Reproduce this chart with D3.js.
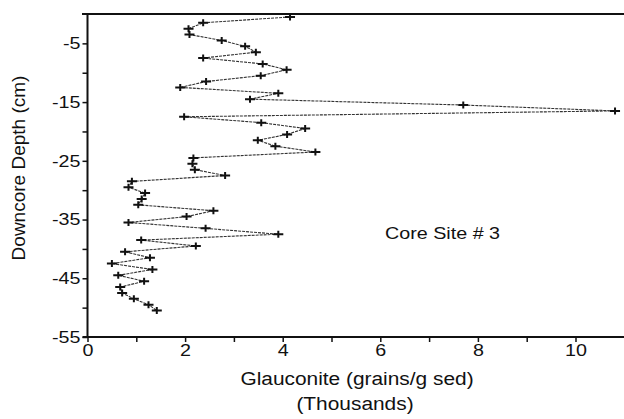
<!DOCTYPE html>
<html>
<head>
<meta charset="utf-8">
<script src="https://cdn.jsdelivr.net/npm/d3@7"></script>
<style>
  html, body { margin: 0; padding: 0; background: #fff; }
  svg { display: block; }
  text { font-family: "Liberation Sans", Arial, Helvetica, sans-serif; fill: #111; }
</style>
</head>
<body>
<svg id="chart" width="624" height="419"></svg>
<script>
// Downcore sample depths (cm, negative = below surface), one sample per cm
const depths = [
  -0.5, -1.5, -2.5, -3.5, -4.5, -5.5, -6.5, -7.5, -8.5, -9.5,
  -10.5, -11.5, -12.5, -13.5, -14.5, -15.5, -16.5, -17.5, -18.5, -19.5,
  -20.5, -21.5, -22.5, -23.5, -24.5, -25.5, -26.5, -27.5, -28.5, -29.5,
  -30.5, -31.5, -32.5, -33.5, -34.5, -35.5, -36.5, -37.5, -38.5, -39.5,
  -40.5, -41.5, -42.5, -43.5, -44.5, -45.5, -46.5, -47.5, -48.5, -49.5,
  -50.5
];
// Glauconite abundance (thousands of grains per gram of sediment)
const glauconite = [
  4.15, 2.37, 2.07, 2.09, 2.75, 3.23, 3.45, 2.37, 3.59, 4.08,
  3.55, 2.43, 1.90, 3.91, 3.33, 7.70, 10.81, 1.98, 3.56, 4.46,
  4.09, 3.49, 3.85, 4.67, 2.17, 2.15, 2.20, 2.82, 0.91, 0.84,
  1.18, 1.11, 1.04, 2.58, 2.03, 0.84, 2.42, 3.91, 1.10, 2.22,
  0.77, 1.28, 0.50, 1.33, 0.63, 1.16, 0.67, 0.71, 0.95, 1.25,
  1.42
];
const xTickValues = [0, 1, 2, 3, 4, 5, 6, 7, 8, 9, 10, 11];
const xTickLabels = ["0", "", "2", "", "4", "", "6", "", "8", "", "10", ""];
const yTickValues = [-5, -10, -15, -20, -25, -30, -35, -40, -45, -50, -55];
const yTickLabels = ["-5", "", "-15", "", "-25", "", "-35", "", "-45", "", "-55"];

const points = depths.map((d, i) => ({ depth: d, value: glauconite[i] }));

const svg = d3.select("#chart");
const stretch = 1.16; // horizontal widening of the lettering

const x = d3.scaleLinear().domain([0, 11]).range([87.5, 624.3]);
const y = d3.scaleLinear().domain([0, -55]).range([14, 337]);

// frame top line
svg.append("line")
  .attr("x1", 82).attr("x2", 624)
  .attr("y1", y(0)).attr("y2", y(0))
  .attr("stroke", "#111").attr("stroke-width", 2);

// left axis
const yAxis = svg.append("g")
  .attr("transform", `translate(${x(0)},0)`)
  .call(d3.axisLeft(y)
    .tickValues(yTickValues)
    .tickSize(5)
    .tickPadding(2)
    .tickFormat((d, i) => yTickLabels[i]));
yAxis.select(".domain").attr("stroke", "#111").attr("stroke-width", 2)
  .attr("d", `M0,${y(0)}V${y(-55)}`);
yAxis.selectAll(".tick line").attr("stroke", "#111").attr("stroke-width", 1.5);
yAxis.selectAll(".tick text")
  .style("font-size", "17px").attr("fill", "#111")
  .attr("x", -7 / stretch)
  .attr("transform", `scale(${stretch},1)`);

// bottom axis
const xAxis = svg.append("g")
  .attr("transform", `translate(0,${y(-55)})`)
  .call(d3.axisBottom(x)
    .tickValues(xTickValues)
    .tickSize(5)
    .tickPadding(2)
    .tickFormat((d, i) => xTickLabels[i]));
xAxis.select(".domain").attr("stroke", "#111").attr("stroke-width", 2)
  .attr("d", `M${x(0) - 5},0H624`);
xAxis.selectAll(".tick line").attr("stroke", "#111").attr("stroke-width", 1.5);
xAxis.selectAll(".tick text")
  .style("font-size", "17px").attr("fill", "#111")
  .attr("transform", `scale(${stretch},1)`)
  .attr("x", 0);

// connecting line
const line = d3.line().x(d => x(d.value)).y(d => y(d.depth));
svg.append("path")
  .datum(points)
  .attr("d", line)
  .attr("fill", "none")
  .attr("stroke", "#333")
  .attr("stroke-width", 1.1)
  .attr("stroke-dasharray", "3,1");

// plus markers
svg.append("g").selectAll("path")
  .data(points)
  .join("path")
  .attr("transform", d => `translate(${x(d.value)},${y(d.depth)})`)
  .attr("d", "M-5,0H5M0,-3.5V3.5")
  .attr("stroke", "#111")
  .attr("stroke-width", 2)
  .attr("fill", "none");

// axis titles and annotation
function stretchedText(tx, ty, str, size, anchor) {
  svg.append("text")
    .attr("transform", `translate(${tx},${ty}) scale(${stretch},1)`)
    .attr("text-anchor", anchor)
    .style("font-size", size + "px")
    .text(str);
}
stretchedText(357, 385, "Glauconite (grains/g sed)", 18, "middle");
stretchedText(355, 410, "(Thousands)", 18, "middle");
stretchedText(385, 239, "Core Site # 3", 17, "start");

svg.append("text")
  .attr("transform", `translate(25,168) rotate(-90)`)
  .attr("text-anchor", "middle")
  .style("font-size", "19px")
  .text("Downcore Depth (cm)");
</script>
</body>
</html>
